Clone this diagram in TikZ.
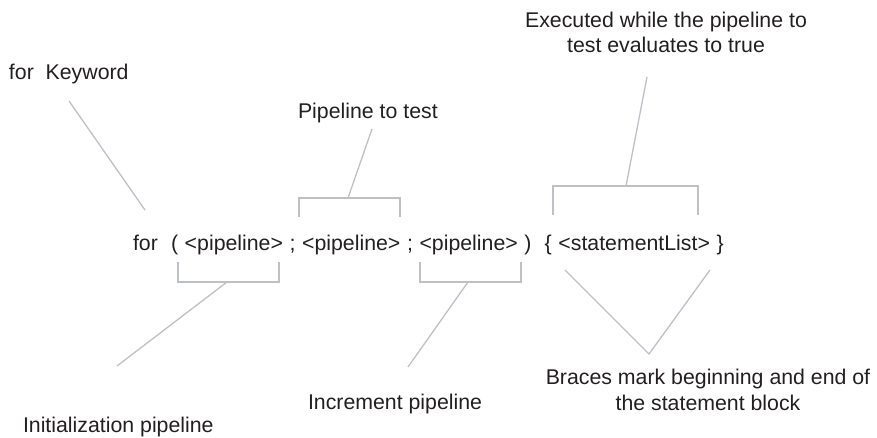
\documentclass[tikz,border=0pt]{standalone}
\usepackage{fontspec}
\setmainfont{Liberation Sans}
\definecolor{txt}{HTML}{231F20}
\definecolor{ln}{HTML}{BDC0C7}
\begin{document}
\begin{tikzpicture}[x=1pt,y=-1pt,
  lbl/.style={inner sep=0pt,outer sep=0pt,text=txt,font=\fontsize{21.3}{25.5}\selectfont},
  lead/.style={draw=ln,line width=1.3pt},
  brk/.style={draw=ln,line width=1.3pt,line join=miter}]
\useasboundingbox (0,0) rectangle (877,438);
% labels
\node[lbl,anchor=base west] (forkw) at (9,80) {for\ \ Keyword};
\node[lbl,anchor=base west] (pipetest) at (298,119) {Pipeline to test};
\node[lbl,anchor=base,align=center] (exec) at (666,53) {Executed while the pipeline to\\test evaluates to true};
\node[lbl,anchor=base west] (main) at (133,251) {\spaceskip=6.6pt for\ \ ( <pipeline> ; <pipeline> ; <pipeline> )\ \ \{ <statementList> \}};
\node[lbl,anchor=base west] (init) at (23,432) {Initialization pipeline};
\node[lbl,anchor=base west] (incr) at (308,409) {Increment pipeline};
\node[lbl,anchor=base,align=center] (braces) at (708,410) {Braces mark beginning and end of\\the statement block};
% coordinates
\coordinate (k1) at (69,101);   \coordinate (k2) at (145,210);
\coordinate (t1) at (372,129);  \coordinate (t2) at (348,198);
\coordinate (tbl) at (299,217); \coordinate (tbr) at (400,217);
\coordinate (e1) at (647,77);   \coordinate (e2) at (626,186);
\coordinate (ebl) at (553,215); \coordinate (ebr) at (698,215);
\coordinate (ibl) at (178,262); \coordinate (ibr) at (279,262);
\coordinate (i1) at (227,282);  \coordinate (i2) at (117,366);
\coordinate (nbl) at (420,262); \coordinate (nbr) at (521,262);
\coordinate (n1) at (468,282);  \coordinate (n2) at (408,367);
\coordinate (bl) at (565,270);  \coordinate (bv) at (649,354); \coordinate (br) at (710,270);
% connectors
\draw[lead] (k1) -- (k2);
\draw[lead] (t1) -- (t2);
\draw[brk] (tbl) |- (t2) -| (tbr);
\draw[lead] (e1) -- (e2);
\draw[brk] (ebl) |- (e2) -| (ebr);
\draw[brk] (ibl) |- (i1) -| (ibr);
\draw[lead] (i1) -- (i2);
\draw[brk] (nbl) |- (n1) -| (nbr);
\draw[lead] (n1) -- (n2);
\draw[brk] (bl) -- (bv) -- (br);
\end{tikzpicture}
\end{document}
